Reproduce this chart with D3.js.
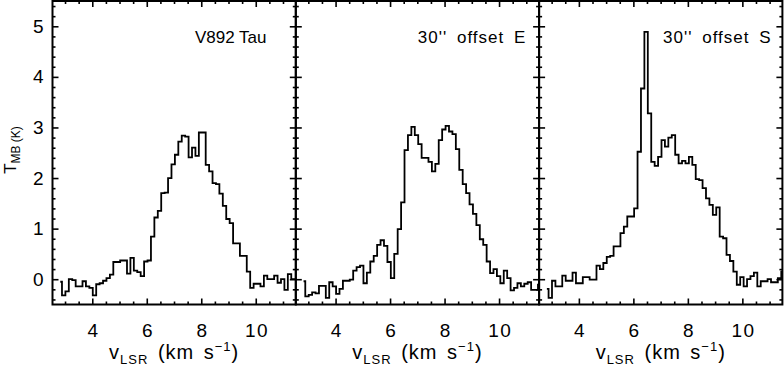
<!DOCTYPE html>
<html><head><meta charset="utf-8">
<script src="https://cdn.jsdelivr.net/npm/d3@7"></script>
<style>
body{margin:0;background:#fff}
svg{display:block}
text{font-family:"Liberation Sans",Arial,Helvetica,sans-serif;fill:#000}
</style>
</head><body><svg id="c" width="784" height="366"></svg>
<script>
// ---- data ----
const panelTitles = ["V892 Tau", "30'' offset E", "30'' offset S"];
const velocityStart = 2.825;   // centre of first channel (km/s)
const channelWidth = 0.1256;   // km/s
const v892Tau = [-0.05,-0.32,-0.24,0.00,-0.02,-0.14,-0.14,-0.04,-0.14,-0.17,
 -0.32,-0.10,-0.08,-0.03,0.02,0.09,0.34,0.34,0.37,0.37,
 0.11,0.42,0.17,0.14,0.06,0.35,0.37,0.84,1.22,1.35,
 1.70,1.71,2.00,2.27,2.46,2.72,2.84,2.82,2.41,2.60,
 2.44,2.90,2.90,2.26,2.13,1.90,1.88,1.69,1.45,1.19,
 1.11,0.71,0.71,0.46,0.46,0.15,-0.17,-0.09,-0.09,-0.14,
 0.07,0.00,0.00,0.07,-0.07,0.00,-0.21,0.10,0.00,0.00];
const offsetE = [-0.04,-0.34,-0.31,-0.26,-0.28,-0.13,-0.13,-0.37,-0.06,-0.14,
 -0.29,-0.19,-0.03,-0.03,-0.01,0.17,0.24,0.27,-0.08,0.13,
 0.35,0.46,0.68,0.77,0.66,0.34,0.02,0.50,0.99,1.52,
 2.55,2.85,3.01,2.85,2.67,2.40,2.40,2.32,2.13,2.28,
 2.75,2.96,3.03,2.92,2.87,2.57,2.16,1.88,1.70,1.48,
 1.29,1.07,0.79,0.68,0.35,0.12,0.20,0.06,-0.08,0.17,
 0.02,-0.22,-0.17,-0.08,-0.14,-0.09,-0.06,-0.21,-0.21,-0.11];
const offsetS = [-0.19,-0.37,-0.03,-0.14,-0.14,0.07,-0.03,-0.03,0.13,-0.08,
 -0.08,0.04,0.04,-0.01,-0.01,0.27,0.20,0.32,0.44,0.46,
 0.65,0.65,0.91,1.04,1.24,1.24,1.40,2.52,3.77,4.89,
 3.28,2.32,2.24,2.42,2.75,2.62,2.80,2.85,2.46,2.29,
 2.34,2.29,2.42,2.26,1.98,1.96,1.80,1.60,1.47,1.27,
 1.42,0.84,0.81,0.48,0.36,0.15,-0.11,0.04,-0.14,0.00,
 0.06,0.13,-0.14,-0.04,-0.04,0.00,-0.06,-0.06,0.02,0.15];
const xTickValues = [4, 6, 8, 10];
const yTickValues = [0, 1, 2, 3, 4, 5];

// ---- layout ----
const xDomain = [2.54, 11.47];
const yDomain = [-0.5, 5.5];
const panelLeft = [52.5, 295.8, 539.1];
const panelWidth = 243.3;
const plotTop = 1, plotBottom = 304.5;
const titleOffset = [142.5, 122, 124];
const titleSpacing = [[0, 0], [1, 4], [1, 4]]; // letter-spacing, word-spacing
const titleBaseline = 43;

const series = [v892Tau, offsetE, offsetS];
const svg = d3.select("#c");

const y = d3.scaleLinear().domain(yDomain).range([plotBottom, plotTop]);
const xMinor = d3.range(3, 11.01, 0.5).filter(v => !xTickValues.includes(v));
const yMinor = d3.range(-4, 55, 2).map(v => Math.round(v) / 10).filter(v => !yTickValues.includes(v));

function styleAxis(g, labels) {
  g.select(".domain").remove();
  g.selectAll(".tick line").attr("stroke", "#000").attr("stroke-width", 1.6);
  if (!labels) g.selectAll(".tick text").remove();
  else g.selectAll(".tick text").style("font-size", "19px").attr("fill", "#000");
}

series.forEach((vals, p) => {
  const x = d3.scaleLinear().domain(xDomain).range([0, panelWidth]);
  const g = svg.append("g").attr("transform", `translate(${panelLeft[p]},0)`);
  const clipId = "clip" + p;
  g.append("clipPath").attr("id", clipId).append("rect")
    .attr("x", 0).attr("y", plotTop).attr("width", panelWidth).attr("height", plotBottom - plotTop);

  const data = vals.map((t, i) => ({ v: velocityStart + i * channelWidth, t }));
  const line = d3.line().x(d => x(d.v)).y(d => y(d.t)).curve(d3.curveStep);
  g.append("path").datum(data).attr("clip-path", `url(#${clipId})`)
    .attr("d", line).attr("fill", "none").attr("stroke", "#000").attr("stroke-width", 1.8);

  // bottom
  g.append("g").attr("transform", `translate(0,${plotBottom})`)
    .call(d3.axisBottom(x).tickValues(xTickValues).tickSize(-6).tickPadding(19).tickFormat(d3.format("d")))
    .call(s => styleAxis(s, true))
    .call(s => s.selectAll(".tick text").style("letter-spacing", "1.5px").attr("dx", "0.75"));
  g.append("g").attr("transform", `translate(0,${plotBottom})`)
    .call(d3.axisBottom(x).tickValues(xMinor).tickSize(-3)).call(s => styleAxis(s, false));
  // top
  g.append("g").attr("transform", `translate(0,${plotTop})`)
    .call(d3.axisTop(x).tickValues(xTickValues).tickSize(-6)).call(s => styleAxis(s, false));
  g.append("g").attr("transform", `translate(0,${plotTop})`)
    .call(d3.axisTop(x).tickValues(xMinor).tickSize(-3)).call(s => styleAxis(s, false));
  // left
  g.append("g")
    .call(d3.axisLeft(y).tickValues(yTickValues).tickSize(-6).tickPadding(9).tickFormat(d3.format("d")))
    .call(s => styleAxis(s, p === 0));
  g.append("g").call(d3.axisLeft(y).tickValues(yMinor).tickSize(-3)).call(s => styleAxis(s, false));
  // right
  g.append("g").attr("transform", `translate(${panelWidth},0)`)
    .call(d3.axisRight(y).tickValues(yTickValues).tickSize(-6)).call(s => styleAxis(s, false));
  g.append("g").attr("transform", `translate(${panelWidth},0)`)
    .call(d3.axisRight(y).tickValues(yMinor).tickSize(-3)).call(s => styleAxis(s, false));

  // frame
  g.append("rect").attr("x", 0).attr("y", plotTop).attr("width", panelWidth)
    .attr("height", plotBottom - plotTop).attr("fill", "none").attr("stroke", "#000").attr("stroke-width", 2);

  // title
  g.append("text").attr("x", titleOffset[p]).attr("y", titleBaseline)
    .style("font-size", "17px")
    .style("letter-spacing", titleSpacing[p][0] + "px")
    .style("word-spacing", titleSpacing[p][1] + "px")
    .text(panelTitles[p]);

  // x-axis title
  const xt = g.append("text").attr("x", panelWidth / 2).attr("y", 359)
    .attr("text-anchor", "middle").style("font-size", "20px")
    .style("letter-spacing", "1px").style("word-spacing", "3px");
  xt.append("tspan").text("v");
  xt.append("tspan").attr("dy", 5).style("font-size", "13px").text("LSR");
  xt.append("tspan").attr("dy", -5).text(" (km s");
  xt.append("tspan").attr("dy", -8).style("font-size", "13px").text("\u22121");
  xt.append("tspan").attr("dy", 8).text(")");
});

// y-axis title
const yt = svg.append("text").attr("transform", "translate(16,150) rotate(-90)")
  .attr("text-anchor", "middle").style("font-size", "17px");
yt.append("tspan").text("T");
yt.append("tspan").attr("dy", 4).style("font-size", "12px").text("MB");
yt.append("tspan").style("font-size", "12px").text(" (K)");
</script>
</body></html>
